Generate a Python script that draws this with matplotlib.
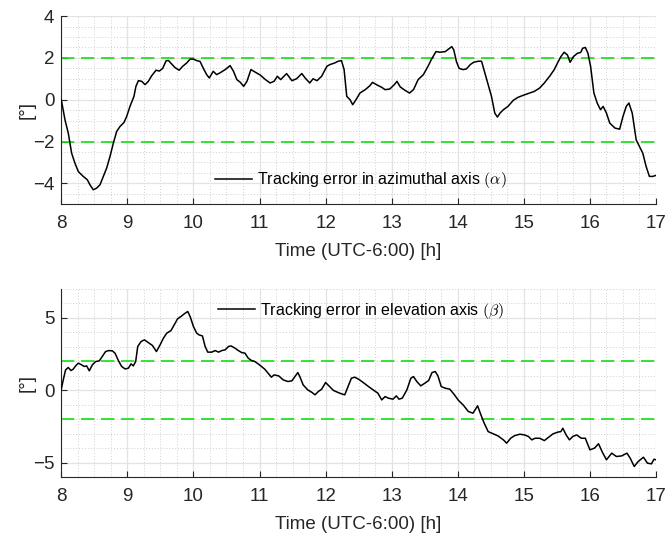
import matplotlib
matplotlib.use("Agg")
import matplotlib.pyplot as plt
from matplotlib.ticker import MultipleLocator

plt.rcParams['font.family'] = ['Liberation Sans', 'DejaVu Sans']
plt.rcParams['mathtext.fontset'] = 'cm'

# ---- Data ----
az_time = [8.0, 8.056, 8.106, 8.157, 8.207, 8.258, 8.333, 8.394, 8.434, 8.485, 8.535, 8.586,
           8.636, 8.687, 8.737, 8.788, 8.838, 8.889, 8.949, 8.99, 9.04, 9.10, 9.13, 9.167,
           9.217, 9.268, 9.318, 9.369, 9.434, 9.485, 9.535, 9.586, 9.62, 9.672, 9.72, 9.783,
           9.838, 9.899, 9.949, 10.0, 10.05, 10.10, 10.15, 10.20, 10.24, 10.30, 10.35, 10.40,
           10.48, 10.555, 10.606, 10.657, 10.71, 10.76, 10.81, 10.87, 10.94, 11.015, 11.09,
           11.16, 11.22, 11.27, 11.32, 11.41, 11.49, 11.56, 11.64, 11.69, 11.76, 11.81, 11.87,
           11.94, 12.02, 12.066, 12.14, 12.19, 12.24, 12.28, 12.32, 12.37, 12.41, 12.46, 12.52,
           12.60, 12.67, 12.71, 12.77, 12.85, 12.90, 12.97, 13.04, 13.08, 13.13, 13.20, 13.27,
           13.33, 13.40, 13.48, 13.55, 13.60, 13.67, 13.73, 13.81, 13.86, 13.91, 13.94, 13.98,
           14.02, 14.08, 14.13, 14.19, 14.24, 14.31, 14.36, 14.41, 14.46, 14.51, 14.56, 14.60,
           14.64, 14.69, 14.76, 14.84, 14.91, 14.99, 15.09, 15.16, 15.24, 15.31, 15.39, 15.46,
           15.51, 15.56, 15.61, 15.66, 15.70, 15.75, 15.81, 15.86, 15.89, 15.93, 15.97, 16.01,
           16.06, 16.11, 16.16, 16.20, 16.25, 16.30, 16.38, 16.45, 16.50, 16.55, 16.59, 16.64,
           16.70, 16.80, 16.85, 16.90, 16.95, 17.0]
az_err = [0.0, -0.96, -1.6, -2.56, -3.04, -3.44, -3.67, -3.83, -4.07, -4.31, -4.23, -4.07,
          -3.67, -3.27, -2.72, -2.08, -1.52, -1.28, -1.09, -0.8, -0.32, 0.16, 0.64, 0.91,
          0.88, 0.72, 0.88, 1.15, 1.41, 1.37, 1.5, 1.86, 1.88, 1.7, 1.54, 1.41,
          1.6, 1.76, 1.94, 1.94, 1.87, 1.83, 1.5, 1.2, 1.04, 1.36, 1.2, 1.28,
          1.44, 1.63, 1.36, 0.96, 0.83, 0.64, 0.88, 1.44, 1.31, 1.17, 0.96,
          0.80, 0.88, 1.12, 0.96, 1.25, 0.91, 1.0, 1.25, 1.04, 0.8, 1.0, 0.91,
          1.12, 1.6, 1.68, 1.76, 1.84, 1.87, 1.44, 0.16, 0.0, -0.24, 0.0, 0.32,
          0.48, 0.67, 0.83, 0.72, 0.59, 0.48, 0.51, 0.72, 0.88, 0.61, 0.45, 0.32,
          0.48, 0.96, 1.2, 1.6, 1.92, 2.3, 2.27, 2.3, 2.42, 2.54, 2.38, 1.82,
          1.5, 1.44, 1.47, 1.68, 1.79, 1.84, 1.84, 1.28, 0.72, 0.16, -0.64, -0.83,
          -0.64, -0.48, -0.32, -0.03, 0.11, 0.21, 0.32, 0.40, 0.56, 0.8, 1.12, 1.44,
          1.76, 2.06, 2.27, 2.14, 1.79, 2.06, 2.22, 2.26, 2.46, 2.5, 2.22, 1.6,
          0.32, -0.16, -0.48, -0.32, -0.64, -1.12, -1.36, -1.41, -0.8, -0.32, -0.16, -0.64,
          -1.92, -2.56, -3.19, -3.67, -3.67, -3.62]

el_time = [8.0, 8.03, 8.065, 8.106, 8.146, 8.18, 8.217, 8.258, 8.308, 8.348, 8.384, 8.424,
           8.47, 8.52, 8.576, 8.62, 8.67, 8.72, 8.773, 8.813, 8.864, 8.914, 8.965, 9.015,
           9.056, 9.09, 9.126, 9.157, 9.207, 9.258, 9.318, 9.38, 9.44, 9.495, 9.545, 9.596,
           9.66, 9.71, 9.76, 9.81, 9.874, 9.914, 9.95, 10.0, 10.05, 10.086, 10.136, 10.177,
           10.217, 10.278, 10.328, 10.38, 10.43, 10.48, 10.53, 10.57, 10.63, 10.68, 10.73,
           10.78, 10.83, 10.88, 10.93, 11.0, 11.08, 11.13, 11.18, 11.22, 11.29, 11.36,
           11.43, 11.49, 11.53, 11.58, 11.61, 11.66, 11.73, 11.79, 11.84, 11.89, 11.94, 12.0,
           12.05, 12.12, 12.19, 12.24, 12.29, 12.34, 12.39, 12.44, 12.5, 12.57, 12.65, 12.72,
           12.79, 12.85, 12.9, 12.95, 13.02, 13.07, 13.11, 13.16, 13.23, 13.29, 13.33, 13.38,
           13.44, 13.5, 13.56, 13.61, 13.66, 13.7, 13.75, 13.81, 13.88, 13.95, 14.01, 14.08,
           14.16, 14.23, 14.3, 14.35, 14.4, 14.46, 14.54, 14.61, 14.69, 14.74, 14.80, 14.86,
           14.94, 15.01, 15.07, 15.12, 15.17, 15.24, 15.31, 15.37, 15.44, 15.51, 15.56, 15.59,
           15.64, 15.69, 15.74, 15.80, 15.87, 15.93, 16.0, 16.07, 16.13, 16.19, 16.25, 16.33,
           16.40, 16.48, 16.56, 16.61, 16.67, 16.73, 16.81, 16.87, 16.93, 16.97, 17.0]
el_err = [0.07, 0.71, 1.4, 1.57, 1.36, 1.45, 1.68, 1.87, 1.75, 1.64, 1.68, 1.34,
          1.75, 1.98, 2.03, 2.33, 2.67, 2.74, 2.72, 2.56, 2.05, 1.64, 1.47, 1.52,
          1.82, 1.68, 1.98, 3.02, 3.36, 3.48, 3.29, 3.09, 2.67, 3.13, 3.59, 3.94,
          4.12, 4.52, 4.93, 5.09, 5.32, 5.44, 5.09, 4.4, 3.94, 3.82, 3.75, 3.02,
          2.63, 2.63, 2.74, 2.63, 2.74, 2.79, 3.02, 3.06, 2.9, 2.74, 2.6,
          2.56, 2.21, 2.05, 1.98, 1.75, 1.45, 1.18, 0.9, 1.06, 0.99, 0.71,
          0.6, 0.65, 0.9, 1.22, 0.94, 0.37, 0.02, -0.14, -0.32, -0.09, 0.07, 0.53,
          0.3, -0.02, -0.16, -0.25, -0.32, 0.25, 0.83, 0.9, 0.76, 0.53, 0.25, 0.02,
          -0.2, -0.67, -0.44, -0.55, -0.62, -0.39, -0.62, -0.55, 0.02, 0.83, 0.94, 0.6,
          0.3, 0.48, 0.67, 1.22, 1.29, 0.99, 0.25, 0.14, 0.07, -0.32, -0.7, -1.01,
          -1.47, -1.59, -1.08, -1.7, -2.28, -2.86, -3.02, -3.16, -3.43, -3.66, -3.32, -3.14,
          -3.04, -3.09, -3.2, -3.43, -3.32, -3.32, -3.48, -3.27, -3.02, -2.9, -2.86, -2.63,
          -3.09, -3.43, -3.2, -3.09, -3.32, -3.32, -4.12, -4.0, -3.7, -4.3, -4.81, -4.35,
          -4.58, -4.54, -4.35, -4.7, -5.27, -4.93, -4.63, -5.04, -5.09, -4.77, -4.81]

limits = [2, -2]
x_ticks = [8, 9, 10, 11, 12, 13, 14, 15, 16, 17]
az_yticks = [-4, -2, 0, 2, 4]
el_yticks = [-5, 0, 5]
az_label = r'Tracking error in azimuthal axis $(\alpha)$'
el_label = r'Tracking error in elevation axis $(\beta)$'
xlabel = 'Time (UTC-6:00) [h]'
ylabel = '[°]'

fig = plt.figure(figsize=(6.66, 5.36), dpi=100)
ax1 = fig.add_axes([0.092, 0.619, 0.893, 0.351])
ax2 = fig.add_axes([0.092, 0.110, 0.893, 0.351])

FS = 13.5

def style(ax, yticks, ylim, yminor):
    ax.set_xlim(8, 17)
    ax.set_ylim(*ylim)
    ax.set_xticks(x_ticks)
    ax.set_yticks(yticks)
    ax.xaxis.set_minor_locator(MultipleLocator(0.25))
    ax.yaxis.set_minor_locator(MultipleLocator(yminor))
    ax.grid(which='major', color='#e3e3e3', linewidth=0.9, linestyle='-')
    ax.grid(which='minor', color='#cfcfcf', linewidth=0.7, linestyle=(0, (1, 2)))
    ax.set_axisbelow(True)
    for s in ['top', 'right']:
        ax.spines[s].set_visible(False)
    for s in ['left', 'bottom']:
        ax.spines[s].set_color('#262626')
        ax.spines[s].set_linewidth(0.8)
    ax.tick_params(which='major', direction='in', length=4, width=0.8,
                   colors='#262626', labelsize=FS)
    ax.tick_params(axis='x', which='major', pad=8)
    ax.tick_params(axis='y', which='major', pad=5)
    ax.tick_params(which='minor', length=0)
    ax.set_xlabel(xlabel, fontsize=FS, color='#262626', labelpad=8)
    ax.set_ylabel(ylabel, fontsize=FS, color='#262626', labelpad=-2)
    for v in limits:
        ax.axhline(v, color='#11e011', linewidth=1.2, dashes=(8, 4), zorder=2)

style(ax1, az_yticks, (-5, 4), 0.5)
style(ax2, el_yticks, (-6, 7), 1)

ax1.plot(az_time, az_err, color='black', linewidth=1.1, label=az_label, zorder=3)
ax2.plot(el_time, el_err, color='black', linewidth=1.1, label=el_label, zorder=3)

for ax, y in [(ax1, 0.128), (ax2, 0.883)]:
    ax.legend(loc='center', bbox_to_anchor=(0.504, y), frameon=False, fontsize=11.5,
              handlelength=2.3, handletextpad=0.35, borderpad=0.1)

fig.savefig('out.png', dpi=100)
